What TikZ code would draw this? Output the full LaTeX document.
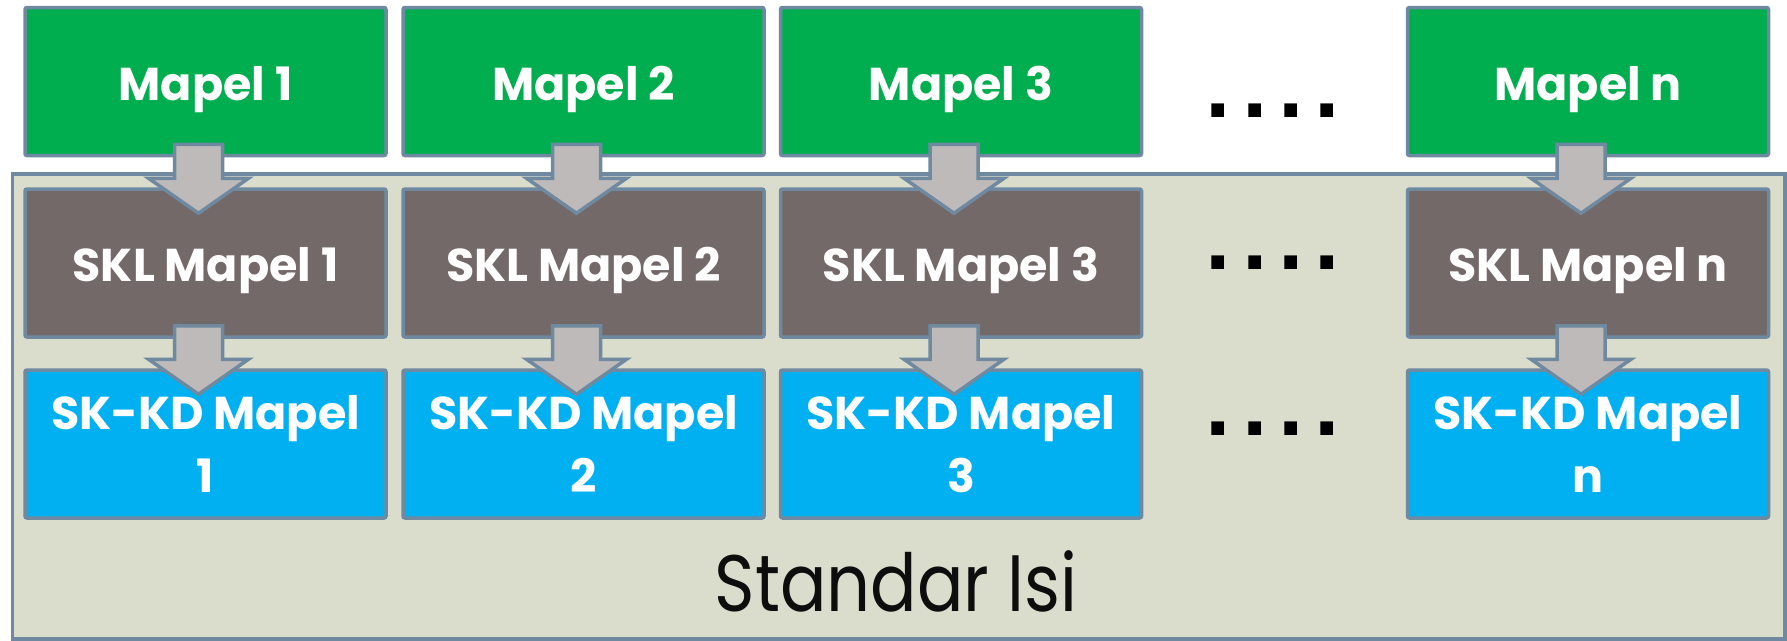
\documentclass[tikz,border=0pt]{standalone}
\usepackage{fontspec}
\usetikzlibrary{calc}
\newfontfamily\boxfont{Poppins}
\newfontfamily\titlefont{Poppins}[FakeStretch=0.86]
\newfontfamily\dotfont{DejaVu Sans}
\definecolor{mapelgreen}{HTML}{00AE4F}
\definecolor{sklgray}{HTML}{736968}
\definecolor{skkdblue}{HTML}{00B0F0}
\definecolor{isibg}{HTML}{DADDCB}
\definecolor{edge}{HTML}{6F8AA0}
\definecolor{arrowfill}{HTML}{BFBABA}
\definecolor{titleink}{HTML}{0D0D0D}
\tikzset{
  box/.style={draw=edge, line width=3.5pt, rounded corners=2pt,
    minimum width=361pt, minimum height=148pt, inner sep=0pt,
    text=white, align=center,
    font=\boxfont\bfseries\fontsize{46}{63}\selectfont},
  oneline/.style={text height=37pt, text depth=0pt},
  mapel/.style={box, oneline, fill=mapelgreen},
  skl/.style={box, oneline, fill=sklgray},
  skkd/.style={box, fill=skkdblue},
  barrow/.style={draw=edge, fill=arrowfill, line width=3.5pt, line join=miter},
  dots/.style={font=\dotfont\bfseries\fontsize{72}{72}\selectfont,
    anchor=base, inner sep=0pt},
}
% block arrow from the bottom of one box into the top of the next
\newcommand\flowarrow[2]{%
  \draw[barrow] let \p1=($(#1.south)+(-7,-13)$), \p2=($(#2.north)+(-7,26)$) in
    (\x1-24pt,\y1) -- (\x1+24pt,\y1) -- (\x1+24pt,\y2+35pt) -- (\x1+50pt,\y2+35pt)
    -- (\x1,\y2) -- (\x1-50pt,\y2+35pt) -- (\x1-24pt,\y2+35pt) -- cycle;}
\begin{document}
\begin{tikzpicture}[x=1pt,y=-1pt]
\useasboundingbox (0,0) rectangle (1787,640);
% background panel
\node[draw=edge, fill=isibg, line width=3.5pt, minimum width=1772.5pt,
  minimum height=465pt, inner sep=0pt, anchor=north west] (isi) at (10.5,172) {};
% columns
\node[mapel] (m1) at (205.5,81.5) {Mapel 1};
\node[mapel] (m2) at (583.5,81.5) {Mapel 2};
\node[mapel] (m3) at (961,81.5) {Mapel 3};
\node[mapel] (mn) at (1588,81.5) {Mapel n};
\node[skl] (s1) at (205.5,263) {SKL Mapel 1};
\node[skl] (s2) at (583.5,263) {SKL Mapel 2};
\node[skl] (s3) at (961,263) {SKL Mapel 3};
\node[skl] (sn) at (1588,263) {SKL Mapel n};
\node[skkd] (k1) at (205.5,444) {SK-KD Mapel\\1};
\node[skkd] (k2) at (583.5,444) {SK-KD Mapel\\2};
\node[skkd] (k3) at (961,444) {SK-KD Mapel\\3};
\node[skkd] (kn) at (1588,444) {SK-KD Mapel\\n};
% arrows
\flowarrow{m1}{s1}\flowarrow{m2}{s2}\flowarrow{m3}{s3}\flowarrow{mn}{sn}
\flowarrow{s1}{k1}\flowarrow{s2}{k2}\flowarrow{s3}{k3}\flowarrow{sn}{kn}
% ellipses
\node[dots] (d1) at (1273,117) {.\kern9pt.\kern9pt.\kern9pt.};
\node[dots] (d2) at (1273,269) {.\kern9pt.\kern9pt.\kern9pt.};
\node[dots] (d3) at (1273,435) {.\kern9pt.\kern9pt.\kern9pt.};
% panel title
\node[anchor=base, inner sep=0pt, text=titleink,
  font=\titlefont\fontsize{80}{80}\selectfont] (title) at (896,611) {Standar Isi};
\end{tikzpicture}
\end{document}
